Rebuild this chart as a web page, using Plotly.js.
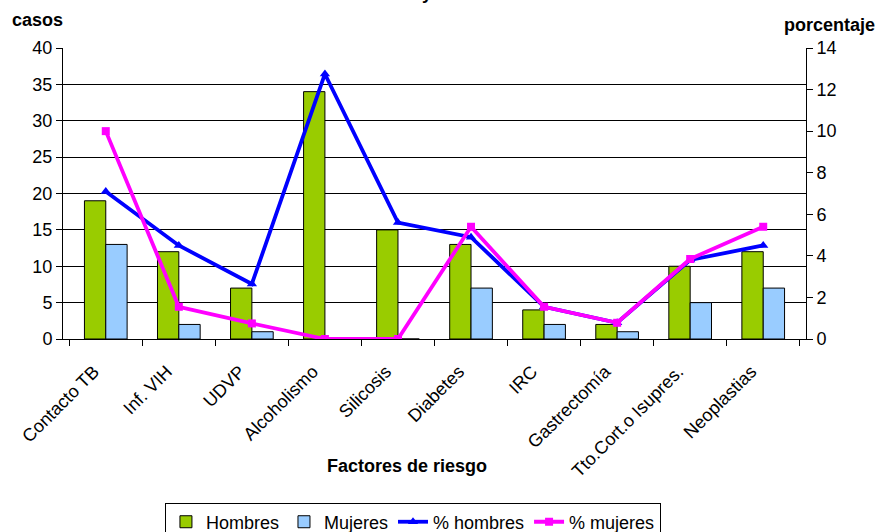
<!DOCTYPE html>
<html>
<head>
<meta charset="utf-8">
<script src="https://cdn.plot.ly/plotly-3.0.1.min.js"></script>
<style>html,body{margin:0;padding:0;background:#fff}#chart{width:878px;height:532px}</style>
</head>
<body>
<div id="chart"></div>
<script>
var categories = ["Contacto TB","Inf. VIH","UDVP","Alcoholismo","Silicosis","Diabetes","IRC","Gastrectomía","Tto.Cort.o Isupres.","Neoplastias"];
var hombres = [19,12,7,34,15,13,4,2,10,12];
var mujeres = [13,2,1,0,0,7,2,1,5,7];
var pctHombres = [7.1,4.5,2.65,12.75,5.6,4.9,1.55,0.78,3.8,4.5];
var pctMujeres = [10.0,1.55,0.75,0,0,5.4,1.55,0.78,3.85,5.4];
var leftTicks = [0,5,10,15,20,25,30,35,40];
var rightTicks = [0,2,4,6,8,10,12,14];

var F = "Arial, 'Liberation Sans', sans-serif";
var traces = [
  {type:'bar', name:'Hombres', x:categories, y:hombres, marker:{color:'#99CC00', line:{color:'#000', width:1}}},
  {type:'bar', name:'Mujeres', x:categories, y:mujeres, marker:{color:'#99CCFF', line:{color:'#000', width:1}}},
  {type:'scatter', mode:'lines+markers', name:'% hombres', x:categories, y:pctHombres, yaxis:'y2',
   line:{color:'#0000FF', width:3.8}, marker:{symbol:'triangle-up', size:9, color:'#0000FF'}},
  {type:'scatter', mode:'lines+markers', name:'% mujeres', x:categories, y:pctMujeres, yaxis:'y2',
   line:{color:'#FF00FF', width:3.8}, marker:{symbol:'square', size:8, color:'#FF00FF'}}
];

var layout = {
  width:878, height:532,
  margin:{l:63, r:72, t:48, b:193, autoexpand:false},
  paper_bgcolor:'#fff', plot_bgcolor:'#fff',
  font:{family:F, size:18, color:'#000'},
  showlegend:true,
  barmode:'group', bargap:0.416, bargroupgap:0,
  xaxis:{type:'category', tickangle:-45, tickson:'boundaries', ticks:'outside', ticklen:6, tickcolor:'#000',
    showline:true, linecolor:'#000', linewidth:1, showgrid:false, tickfont:{size:18}, automargin:false,
    ticklabelstandoff:14, ticklabelshift:-12},
  yaxis:{range:[0,40], tickvals:leftTicks, ticks:'outside', ticklen:6, tickcolor:'#000', showline:true, linecolor:'#000',
    showgrid:true, gridcolor:'#000', gridwidth:1, zeroline:false, tickfont:{size:18}, automargin:false},
  yaxis2:{range:[0,14], tickvals:rightTicks, overlaying:'y', side:'right', ticks:'outside', ticklen:6, tickcolor:'#000',
    showline:true, linecolor:'#000', showgrid:false, zeroline:false, tickfont:{size:18}, automargin:false},
  legend:{orientation:'h', x:0.471, xanchor:'center', y:-0.562, yanchor:'top', bordercolor:'#000', borderwidth:1,
    font:{size:18}, itemwidth:30, tracegroupgap:0},
  annotations:[
    {text:'<b>casos</b>', xref:'paper', yref:'paper', x:-0.0713, xanchor:'left', y:1.096, yanchor:'middle', showarrow:false, font:{size:18}},
    {text:'<b>porcentaje</b>', xref:'paper', yref:'paper', x:1.032, xanchor:'center', y:1.08, yanchor:'middle', showarrow:false, font:{size:18}},
    {text:'<b>Factores de riesgo</b>', xref:'paper', yref:'paper', x:0.463, xanchor:'center', y:-0.436, yanchor:'middle', showarrow:false, font:{size:18}},
    {text:'<b>Castilla y León. Año 2005</b>', xref:'paper', yref:'paper', x:0.535, xanchor:'center', y:1.189, yanchor:'middle', showarrow:false, font:{size:18}}
  ]
};
Plotly.newPlot('chart', traces, layout, {displayModeBar:false, staticPlot:true});
</script>
</body>
</html>
